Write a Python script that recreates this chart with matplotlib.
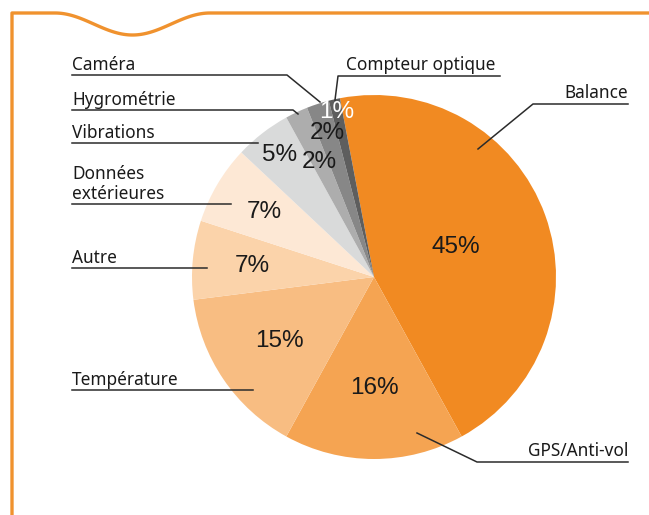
import numpy as np
import matplotlib.pyplot as plt

labels = ["Balance", "GPS/Anti-vol", "Température", "Autre",
          "Données extérieures", "Vibrations", "Hygrométrie", "Caméra",
          "Compteur optique"]
values = [45, 16, 15, 7, 7, 5, 2, 2, 1]
pct_text = ["45%", "16%", "15%", "7%", "7%", "5%", "2%", "2%", "1%"]

colors = ["#F18A22", "#F5A452", "#F8BD82", "#FBD3AA", "#FDE8D5",
          "#D9DADA", "#ADADAD", "#878787", "#5E5E5E"]
pct_radius = [0.48, 0.61, 0.63, 0.67, 0.70, 0.85, 0.70, 0.83, 0.93]
pct_color = ["#1a1a1a"] * 8 + ["white"]

W, H = 649, 515
ORANGE = "#F0922E"
LINE = "#2b2b2b"


def Y(y):
    # image pixel row -> data y
    return H - y


fig = plt.figure(figsize=(W / 100, H / 100), dpi=100)
ax = fig.add_axes([0, 0, 1, 1])

# frame with the wave notch at the top
xs = np.linspace(55, 210, 100)
wave = 13 + 22 * (1 - np.cos(2 * np.pi * (xs - 55) / 155)) / 2
fx = np.concatenate([[12, 12], xs, [W]])
fy = np.concatenate([[H, 13], wave, [13]])
ax.plot(fx, [Y(v) for v in fy], color=ORANGE, lw=2.4, solid_capstyle="butt",
        solid_joinstyle="round")

cx, cy, R = 374, Y(277), 182
start = 100.8
wedges, _ = ax.pie(values, colors=colors, startangle=start, counterclock=False,
                   center=(cx, cy), radius=R, frame=True,
                   wedgeprops=dict(linewidth=0))
ax.set_xlim(0, W)
ax.set_ylim(0, H)
ax.set_aspect("equal")
ax.axis("off")

for w, txt, r, c in zip(wedges, pct_text, pct_radius, pct_color):
    ang = np.deg2rad((w.theta1 + w.theta2) / 2)
    ax.text(cx + r * R * np.cos(ang), cy + r * R * np.sin(ang), txt,
            ha="center", va="center", fontsize=17.5, color=c,
            family="Liberation Sans")

lab_font = dict(fontsize=12.4, family="Noto Sans", color="#1a1a1a")

# left side labels: (text, underline y, underline end x, leader end point)
left = [
    ("Caméra", 75, 287, (320, 102)),
    ("Hygrométrie", 110, 293, (298, 114)),
    ("Vibrations", 143, 258, None),
    ("extérieures", 204, 231, None),
    ("Autre", 268, 207, None),
    ("Température", 390, 253, None),
]
for txt, uy, ux, tip in left:
    px = [72, ux]
    py = [uy, uy]
    if tip:
        px.append(tip[0])
        py.append(tip[1])
    ax.plot(px, [Y(v) for v in py], color=LINE, lw=1.1)
    ax.text(72, Y(uy - 5), txt, ha="left", va="baseline", **lab_font)
ax.text(72, Y(204 - 25), "Données", ha="left", va="baseline", **lab_font)

# Compteur optique
ax.plot([500, 338, 335], [Y(76), Y(76), Y(100)], color=LINE, lw=1.1)
ax.text(346, Y(70), "Compteur optique", ha="left", va="baseline", **lab_font)

# Balance
ax.plot([628, 533, 478], [Y(104), Y(104), Y(149)], color=LINE, lw=1.1)
ax.text(628, Y(98), "Balance", ha="right", va="baseline", **lab_font)

# GPS/Anti-vol
ax.plot([628, 477, 417], [Y(462), Y(462), Y(433)], color=LINE, lw=1.1)
ax.text(628, Y(456), "GPS/Anti-vol", ha="right", va="baseline", **lab_font)

fig.savefig("out.png", dpi=100)
